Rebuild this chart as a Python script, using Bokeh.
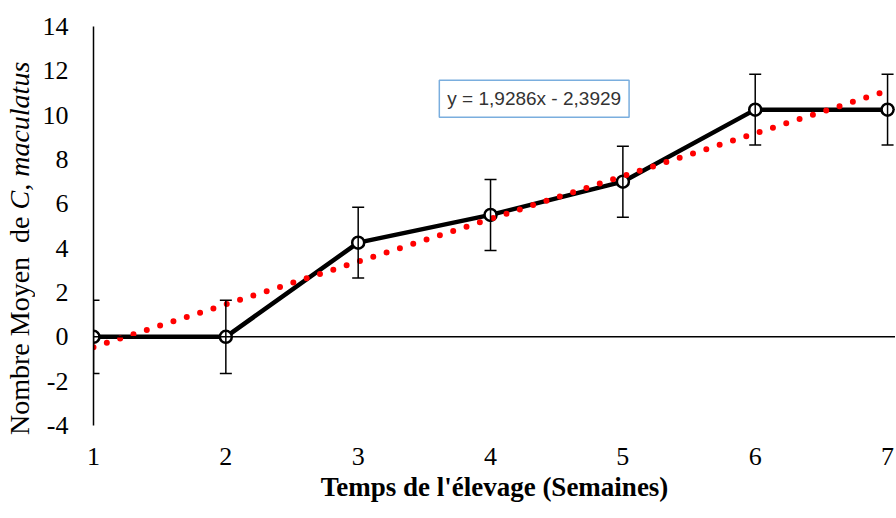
from bokeh.plotting import figure
from bokeh.layouts import row
from bokeh.models import (ColumnDataSource, Range1d, FixedTicker, Whisker, TeeHead,
                          Span, Label, Div)
from bokeh.embed import file_html
from bokeh.resources import INLINE

# ---- data ----
weeks = [1, 2, 3, 4, 5, 6, 7]
mean_count = [0, 0, 4.25, 5.5, 7.0, 10.25, 10.25]
err = [1.65, 1.65, 1.6, 1.6, 1.6, 1.6, 1.6]
y_ticks = [-4, -2, 0, 2, 4, 6, 8, 10, 12, 14]
x_ticks = [1, 2, 3, 4, 5, 6, 7]
trend_slope = 1.9286
trend_intercept = -2.3929
equation_text = "y = 1,9286x - 2,3929"
x_title = "Temps de l'élevage (Semaines)"
y_title_plain = "Nombre Moyen&nbsp; de "
y_title_italic = "C, maculatus"

SERIF = "Liberation Serif"

src = ColumnDataSource(dict(
    x=weeks, y=mean_count,
    lower=[m - e for m, e in zip(mean_count, err)],
    upper=[m + e for m, e in zip(mean_count, err)],
))

p = figure(width=856, height=518, x_range=Range1d(1, 7.06), y_range=Range1d(-4, 14),
           output_backend="svg", toolbar_location=None,
           min_border_left=53, min_border_right=0, min_border_top=26, min_border_bottom=93)
p.outline_line_color = None
p.xgrid.visible = False
p.ygrid.visible = False
p.background_fill_color = "white"
p.border_fill_color = "white"

# y axis
p.yaxis.ticker = FixedTicker(ticks=y_ticks)
p.yaxis.major_label_overrides = {t: str(t) for t in y_ticks}
p.yaxis.major_tick_line_color = None
p.yaxis.minor_tick_line_color = None
p.yaxis.major_tick_out = 0
p.yaxis.major_tick_in = 0
p.yaxis.minor_tick_out = 0
p.yaxis.minor_tick_in = 0
p.yaxis.axis_line_color = "black"
p.yaxis.axis_line_width = 1.5
p.yaxis.major_label_text_font = SERIF
p.yaxis.major_label_text_font_size = "26px"
p.yaxis.major_label_text_color = "black"
p.yaxis.major_label_standoff = 25

# x axis
p.xaxis.ticker = FixedTicker(ticks=x_ticks)
p.xaxis.major_label_overrides = {t: str(t) for t in x_ticks}
p.xaxis.axis_line_color = None
p.xaxis.major_tick_line_color = None
p.xaxis.minor_tick_line_color = None
p.xaxis.major_tick_out = 0
p.xaxis.major_tick_in = 0
p.xaxis.minor_tick_out = 0
p.xaxis.minor_tick_in = 0
p.xaxis.major_label_text_font = SERIF
p.xaxis.major_label_text_font_size = "26px"
p.xaxis.major_label_text_color = "black"
p.xaxis.major_label_standoff = 22
p.xaxis.axis_label = x_title
p.xaxis.axis_label_text_font = SERIF
p.xaxis.axis_label_text_font_style = "bold"
p.xaxis.axis_label_text_font_size = "27px"
p.xaxis.axis_label_text_color = "black"
p.xaxis.axis_label_standoff = 4

# zero line
p.add_layout(Span(location=0, dimension="width", line_color="black", line_width=1.5))

# data line and markers
p.line("x", "y", source=src, line_color="black", line_width=4.5)
p.scatter("x", "y", source=src, marker="circle", size=12, fill_color="white",
          line_color="black", line_width=2.5)

# error bars (drawn above the markers)
wh = Whisker(source=src, base="x", lower="lower", upper="upper",
             line_color="black", line_width=1.5, level="overlay",
             upper_head=TeeHead(size=12, line_color="black", line_width=1.5),
             lower_head=TeeHead(size=12, line_color="black", line_width=1.5))
p.add_layout(wh)

# linear trend line (from the displayed equation)
tx = [weeks[0], weeks[-1]]
ty = [trend_slope * v + trend_intercept for v in tx]
p.line(tx, ty, line_color="#ff0000", line_width=6, line_dash="0 14", line_cap="round")

# equation label
p.add_layout(Label(x=4.33, y=10.74, text=equation_text, text_align="center",
                   text_baseline="middle", text_font="Liberation Sans",
                   text_font_size="19px", text_color="#333333",
                   background_fill_color="white", border_line_color="#7aaede",
                   border_line_width=1.5, padding=8))

# y axis title (mixed roman / italic), rotated, in a narrow Div on the left
y_title_html = (
    '<div style="writing-mode:vertical-rl;transform:rotate(180deg);'
    "font-family:'Liberation Serif';font-size:28px;white-space:nowrap;"
    'height:390px;line-height:28px;width:28px;margin-top:40px;margin-left:1px;'
    'text-align:start;color:black">'
    + y_title_plain + '<i>' + y_title_italic + '</i></div>'
)
ydiv = Div(text=y_title_html, width=29, height=518)

layout = row(ydiv, p)
open("out.html", "w").write(file_html(layout, INLINE))
